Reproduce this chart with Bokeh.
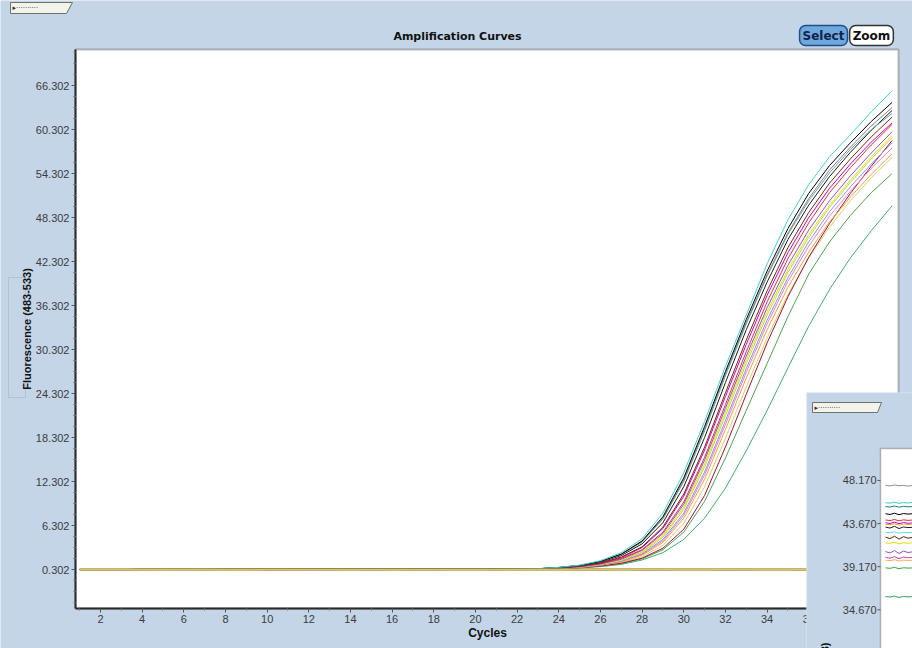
from math import pi
from bokeh.plotting import figure
from bokeh.models import (Range1d, FixedTicker, NumeralTickFormatter, BoxAnnotation, Label)
from bokeh.core.properties import value
from bokeh.embed import file_html
from bokeh.resources import INLINE

# ---------------- data ----------------
cycles = list(range(1, 41))

# shared flat start of the amplification curves, cycles 1..21
baseline_c1_21 = [0.30, 0.30, 0.30, 0.31, 0.31, 0.31, 0.31, 0.32, 0.32, 0.32, 0.32,
                  0.32, 0.33, 0.33, 0.33, 0.33, 0.34, 0.34, 0.34, 0.35, 0.35]

# amplification phase, cycles 22..40
s01_cyan = [0.36, 0.42, 0.60, 0.90, 1.50, 2.60, 4.50, 8.00, 13.50, 20.50, 28.00, 35.00, 42.00, 48.00, 52.80, 56.60, 59.60, 62.70, 65.60]
s02_black = [0.36, 0.41, 0.58, 0.86, 1.40, 2.40, 4.20, 7.50, 12.80, 19.80, 27.30, 34.40, 41.00, 46.80, 51.60, 55.40, 58.50, 61.40, 64.00]
s03_gray = [0.36, 0.41, 0.57, 0.85, 1.40, 2.40, 4.10, 7.30, 12.50, 19.50, 27.00, 34.00, 40.50, 46.20, 50.90, 54.80, 57.90, 60.80, 63.30]
s04_black = [0.35, 0.40, 0.55, 0.80, 1.30, 2.20, 3.80, 6.70, 11.60, 18.30, 25.80, 33.00, 39.50, 45.30, 50.00, 53.90, 57.20, 60.20, 62.90]
s05_brown = [0.35, 0.40, 0.53, 0.76, 1.20, 2.00, 3.40, 6.10, 10.60, 17.00, 24.40, 31.60, 38.30, 44.20, 49.00, 53.00, 56.30, 59.30, 62.00]
s06_magenta = [0.35, 0.39, 0.52, 0.74, 1.15, 1.90, 3.30, 5.90, 10.30, 16.60, 23.90, 31.00, 37.70, 43.50, 48.30, 52.30, 55.60, 58.60, 61.20]
s07_red = [0.35, 0.39, 0.50, 0.70, 1.10, 1.80, 3.00, 5.40, 9.50, 15.60, 22.80, 30.00, 36.80, 42.70, 47.60, 51.70, 55.10, 58.20, 61.00]
s08_purple = [0.34, 0.38, 0.49, 0.68, 1.05, 1.70, 2.90, 5.20, 9.20, 15.20, 22.30, 29.40, 36.00, 41.80, 46.60, 50.60, 54.00, 57.10, 60.00]
s09_yellow = [0.34, 0.38, 0.48, 0.66, 1.00, 1.60, 2.70, 4.90, 8.80, 14.70, 21.80, 28.90, 35.50, 41.20, 46.00, 50.00, 53.40, 56.60, 59.50]
s10_lime = [0.34, 0.38, 0.48, 0.65, 0.98, 1.55, 2.60, 4.70, 8.50, 14.30, 21.30, 28.40, 35.00, 40.80, 45.60, 49.70, 53.10, 56.30, 59.20]
s11_periwinkle = [0.34, 0.37, 0.46, 0.62, 0.93, 1.45, 2.45, 4.40, 8.00, 13.60, 20.60, 27.70, 34.30, 40.10, 45.00, 49.10, 52.50, 55.60, 58.50]
s12_pink = [0.34, 0.37, 0.46, 0.61, 0.90, 1.40, 2.35, 4.20, 7.70, 13.20, 20.10, 27.20, 33.80, 39.60, 44.40, 48.50, 51.90, 55.00, 57.80]
s13_orange = [0.34, 0.37, 0.45, 0.60, 0.87, 1.35, 2.25, 4.00, 7.30, 12.60, 19.40, 26.40, 33.00, 38.80, 43.60, 47.70, 51.10, 54.20, 57.00]
s14_maroon = [0.34, 0.36, 0.43, 0.55, 0.78, 1.15, 1.85, 3.20, 5.80, 10.40, 17.00, 24.20, 31.20, 37.50, 42.90, 47.50, 51.60, 55.30, 58.80]
s15_khaki = [0.34, 0.36, 0.44, 0.57, 0.82, 1.25, 2.05, 3.60, 6.60, 11.60, 18.20, 25.20, 31.90, 37.80, 42.80, 47.00, 50.60, 53.70, 56.50]
s16_green = [0.34, 0.36, 0.42, 0.54, 0.76, 1.10, 1.75, 3.00, 5.40, 9.60, 15.50, 22.00, 28.40, 34.80, 40.60, 45.00, 48.60, 51.70, 54.30]
s17_seagreen = [0.34, 0.35, 0.40, 0.50, 0.70, 1.00, 1.60, 2.60, 4.40, 7.30, 11.40, 16.50, 22.00, 27.80, 33.50, 38.50, 42.80, 46.50, 49.90]
s18_teal = [0.36, 0.41, 0.57, 0.84, 1.38, 2.35, 4.05, 7.20, 12.30, 19.20, 26.70, 33.80, 40.30, 46.00, 50.60, 54.40, 57.60, 60.30, 62.50]

rising_curves = [
    (s17_seagreen, "#3CB06A"), (s16_green, "#4EA24E"), (s15_khaki, "#DCCB64"),
    (s14_maroon, "#A0103C"), (s13_orange, "#F2A03C"), (s12_pink, "#F27EC0"),
    (s11_periwinkle, "#8C8CF0"), (s10_lime, "#B0DC3C"), (s09_yellow, "#E6E000"),
    (s08_purple, "#9050D0"), (s07_red, "#E0303A"), (s06_magenta, "#C800B4"),
    (s05_brown, "#7A2A10"), (s04_black, "#1A1A1A"), (s18_teal, "#6AA8A8"),
    (s03_gray, "#808080"), (s02_black, "#000000"), (s01_cyan, "#3FD2D2"),
]

# negative controls, cycles 1..40
neg1 = [0.29, 0.29, 0.30, 0.29, 0.30, 0.30, 0.29, 0.30, 0.30, 0.29,
        0.30, 0.30, 0.29, 0.30, 0.30, 0.30, 0.29, 0.30, 0.30, 0.30,
        0.29, 0.30, 0.30, 0.30, 0.29, 0.30, 0.30, 0.29, 0.30, 0.30,
        0.30, 0.29, 0.30, 0.30, 0.30, 0.29, 0.30, 0.30, 0.29, 0.30]
neg2 = [0.31, 0.30, 0.30, 0.31, 0.30, 0.31, 0.30, 0.30, 0.31, 0.30,
        0.31, 0.30, 0.31, 0.30, 0.30, 0.31, 0.30, 0.31, 0.30, 0.30,
        0.31, 0.30, 0.30, 0.31, 0.30, 0.31, 0.30, 0.30, 0.31, 0.30,
        0.30, 0.31, 0.30, 0.31, 0.30, 0.30, 0.31, 0.30, 0.31, 0.30]
neg3 = [0.28, 0.29, 0.28, 0.29, 0.29, 0.28, 0.29, 0.28, 0.29, 0.29,
        0.28, 0.29, 0.28, 0.29, 0.28, 0.29, 0.29, 0.28, 0.29, 0.28,
        0.29, 0.28, 0.29, 0.29, 0.28, 0.29, 0.28, 0.29, 0.28, 0.29,
        0.29, 0.28, 0.29, 0.28, 0.29, 0.29, 0.28, 0.29, 0.28, 0.29]
neg4 = [0.30, 0.30, 0.29, 0.30, 0.30, 0.29, 0.30, 0.30, 0.30, 0.29,
        0.30, 0.29, 0.30, 0.30, 0.29, 0.30, 0.30, 0.29, 0.30, 0.30,
        0.30, 0.29, 0.30, 0.30, 0.30, 0.29, 0.30, 0.30, 0.29, 0.30,
        0.30, 0.30, 0.29, 0.30, 0.30, 0.29, 0.30, 0.30, 0.30, 0.30]
negatives = [(neg1, "#6E8B3D"), (neg2, "#A0522D"), (neg4, "#9B59B6"), (neg3, "#D8CC50")]

x_tick_values = [2, 4, 6, 8, 10, 12, 14, 16, 18, 20, 22, 24, 26, 28, 30, 32, 34, 36]
x_minor_values = [1, 3, 5, 7, 9, 11, 13, 15, 17, 19, 21, 23, 25, 27, 29, 31, 33, 35, 37, 39]
y_tick_labels = ["0.302", "6.302", "12.302", "18.302", "24.302", "30.302",
                 "36.302", "42.302", "48.302", "54.302", "60.302", "66.302"]
y_tick_values = [float(t) for t in y_tick_labels]

# overlapping second window (inset) at lower right
inset_cycles = [1, 2, 3, 4, 5, 6, 7]
inset_tick_labels = ["48.170", "43.670", "39.170", "34.670", "30.170"]
inset_tick_values = [float(t) for t in inset_tick_labels]
i01 = [47.65, 47.60, 47.70, 47.62, 47.66, 47.58, 47.64]
i02 = [45.85, 45.80, 45.90, 45.78, 45.86, 45.82, 45.88]
i03 = [45.45, 45.40, 45.50, 45.38, 45.47, 45.42, 45.44]
i04 = [44.70, 44.62, 44.75, 44.60, 44.72, 44.66, 44.70]
i05 = [44.05, 43.98, 44.10, 43.95, 44.06, 44.00, 44.04]
i06 = [43.75, 43.68, 43.82, 43.66, 43.78, 43.70, 43.74]
i07 = [43.60, 43.55, 43.66, 43.50, 43.62, 43.58, 43.60]
i08 = [43.30, 43.20, 43.38, 43.15, 43.32, 43.25, 43.28]
i09 = [42.75, 42.70, 42.80, 42.66, 42.76, 42.72, 42.74]
i10 = [42.25, 42.10, 42.35, 42.05, 42.30, 42.15, 42.22]
i11 = [41.65, 41.60, 41.72, 41.55, 41.68, 41.62, 41.66]
i12 = [40.75, 40.60, 40.85, 40.55, 40.80, 40.65, 40.72]
i13 = [40.15, 40.05, 40.22, 40.00, 40.18, 40.10, 40.14]
i14 = [39.85, 39.80, 39.90, 39.76, 39.86, 39.82, 39.84]
i15 = [39.05, 39.00, 39.10, 38.96, 39.06, 39.02, 39.04]
i16 = [36.05, 36.00, 36.10, 35.96, 36.06, 36.02, 36.04]
inset_curves = [
    (i01, "#909090"), (i02, "#40C8C8"), (i03, "#208080"), (i04, "#000000"),
    (i05, "#E03030"), (i06, "#C000C0"), (i07, "#F0A030"), (i08, "#202020"),
    (i09, "#60D8E0"), (i10, "#602010"), (i11, "#E0E000"), (i12, "#9050D0"),
    (i13, "#D040A0"), (i14, "#F0B060"), (i15, "#40A040"), (i16, "#30A060"),
]

# ---------------- layout / style ----------------
BG = "#C3D5E7"
W, H = 912, 648
CL, CT, CR, CB = 75, 49, 898, 608     # chart box edges (px)
X_LO, X_HI = 0.80, 40.36              # cycles at the chart box edges
Y_LO, Y_HI = -5.02, 71.21             # fluorescence at the chart box edges
LABEL_FONT = "Liberation Sans"

# the frame fills the whole page; axes sit at fixed locations inside it
p = figure(width=W, height=H, output_backend="svg", toolbar_location=None,
           x_range=Range1d(-2.80, 40.98), y_range=Range1d(-10.47, 77.90),
           min_border=0, min_border_left=0, min_border_right=0,
           min_border_top=0, min_border_bottom=0,
           background_fill_color=BG, border_fill_color=BG,
           outline_line_color=None)
p.grid.visible = False
p.extra_x_ranges = {"px": Range1d(0, W), "inset_x": Range1d(-195.67, 7)}
p.extra_y_ranges = {"px": Range1d(H, 0), "inset_y": Range1d(30.63, 98.27)}
PX = dict(x_range_name="px", y_range_name="px")

# white plotting area of the main window
p.add_layout(BoxAnnotation(left=CL, right=CR, top=CT, bottom=CB, fill_color="white",
                           fill_alpha=1, line_color="#2b2b2b", line_width=2,
                           level="underlay", **PX))
# legend tab behind the y-axis title
p.add_layout(BoxAnnotation(left=8, right=25, top=277, bottom=397, fill_alpha=0,
                           line_color="#8C9AAA", line_width=1, level="underlay", **PX))

xa = p.xaxis[0]
xa.fixed_location = Y_LO
xa.bounds = (X_LO, X_HI)
xa.ticker = FixedTicker(ticks=x_tick_values, minor_ticks=x_minor_values)
xa.axis_label = "Cycles"
xa.axis_label_standoff = 0
xa.axis_label_text_font = LABEL_FONT
xa.axis_label_text_font_size = "12px"
xa.axis_label_text_font_style = "bold"
xa.axis_label_text_color = "#111111"

ya = p.yaxis[0]
ya.fixed_location = X_LO
ya.bounds = (Y_LO, Y_HI)
y_minor = [t + d for t in y_tick_values for d in (-4.5, -3.0, -1.5, 1.5, 3.0, 4.5)]
ya.ticker = FixedTicker(ticks=y_tick_values, minor_ticks=y_minor)
ya.formatter = NumeralTickFormatter(format="0.000")
ya.axis_label = "Fluorescence (483-533)"
ya.axis_label_standoff = 0
ya.axis_label_text_font = LABEL_FONT
ya.axis_label_text_font_size = "11px"
ya.axis_label_text_font_style = "bold"
ya.axis_label_text_color = "#111111"

for ax in (xa, ya):
    ax.axis_line_color = "#2b2b2b"
    ax.axis_line_width = 2
    ax.major_tick_line_color = "#555555"
    ax.minor_tick_line_color = "#777777"
    ax.major_tick_out = 4
    ax.major_tick_in = 0
    ax.minor_tick_out = 2
    ax.minor_tick_in = 0
    ax.major_label_standoff = 2
    ax.major_label_text_font = LABEL_FONT
    ax.major_label_text_font_size = "11px"
    ax.major_label_text_color = "#3c3c3c"

# ---------------- curves ----------------
for vals, col in rising_curves:
    p.line(cycles, baseline_c1_21 + vals, line_color=col, line_width=1)
for vals, col in negatives:
    p.line(cycles, vals, line_color=col, line_width=1.6)

# ---------------- window chrome ----------------
p.add_layout(Label(x=457, y=36, text="Amplification Curves", text_align="center",
                   text_baseline="middle", text_font="DejaVu Sans", text_font_size="11px",
                   text_font_style="bold", text_color="#111111", **PX))
p.add_layout(Label(x=823, y=35, text="Select", text_align="center", text_baseline="middle",
                   text_font="DejaVu Sans", text_font_size="12px", text_font_style="bold",
                   text_color="#10224A", background_fill_color="#6FA8DC",
                   border_line_color="#1F4E8C", border_line_width=1.5,
                   padding=3, border_radius=6, **PX))
p.add_layout(Label(x=871, y=35, text="Zoom", text_align="center", text_baseline="middle",
                   text_font="DejaVu Sans", text_font_size="12px", text_font_style="bold",
                   text_color="#111111", background_fill_color="white",
                   border_line_color="#333333", border_line_width=1.5,
                   padding=3, border_radius=6, **PX))

# ---------------- overlapping inset window ----------------
p.add_layout(BoxAnnotation(left=806, right=913, top=392, bottom=660, fill_color=BG,
                           fill_alpha=1, line_color="#E8EEF6", line_width=1.5, **PX))
p.add_layout(BoxAnnotation(left=880, right=914, top=448, bottom=660, fill_color="white",
                           fill_alpha=1, line_color="#2b2b2b", line_width=1.5, **PX))
for val, txt in zip(inset_tick_values, inset_tick_labels):
    p.add_layout(Label(x=876, y=val, text=txt, text_align="right", text_baseline="middle",
                       text_font=LABEL_FONT, text_font_size="11px", text_color="#3c3c3c",
                       x_range_name="px", y_range_name="inset_y"))
p.add_layout(Label(x=824, y=642, angle=pi / 2, text="Fluorescence (483-533)",
                   text_align="right", text_baseline="middle", text_font=LABEL_FONT,
                   text_font_size="11px", text_font_style="bold", text_color="#111111", **PX))

# window tabs (top-left of the page and top-left of the inset window)
p.patch([10, 72, 66, 10], [2, 2, 13, 13], fill_color="#F3F3EA", line_color="#707070",
        line_width=1, level="overlay", **PX)
p.patch([812, 881, 877, 812], [402, 402, 412, 412], fill_color="#F3F3EA",
        line_color="#707070", line_width=1, level="overlay", **PX)
p.text(x=[12, 814], y=[7.5, 407], text=["▸··········", "▸··········"],
       text_font=value("DejaVu Sans"), text_font_size=value("7px"), text_color="#333333",
       text_baseline="middle", level="overlay", **PX)

p.segment(x0=[877] * len(inset_tick_values), x1=[880] * len(inset_tick_values),
          y0=inset_tick_values, y1=inset_tick_values, line_color="#555555", line_width=1,
          x_range_name="px", y_range_name="inset_y", level="overlay")
for vals, col in inset_curves:
    p.line(inset_cycles, vals, line_color=col, line_width=1,
           x_range_name="inset_x", y_range_name="inset_y", level="overlay")

open("out.html", "w").write(file_html(p, INLINE))
